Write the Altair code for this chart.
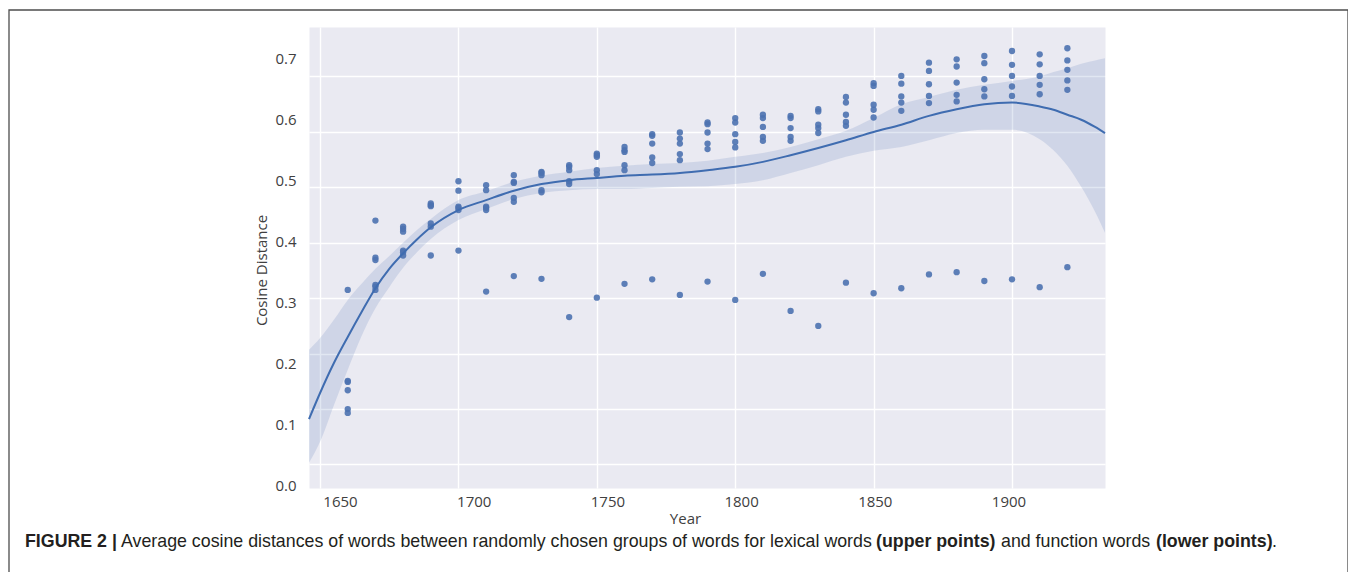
import altair as alt
import pandas as pd

# ---------------- data ----------------
decades = [1660, 1670, 1680, 1690, 1700, 1710, 1720, 1730, 1740, 1750, 1760, 1770, 1780, 1790,
           1800, 1810, 1820, 1830, 1840, 1850, 1860, 1870, 1880, 1890, 1900, 1910, 1920]

lexical_points = [
    [0.151, 0.149, 0.134, 0.100, 0.093],
    [0.440, 0.373, 0.369, 0.324, 0.321],
    [0.429, 0.425, 0.420, 0.386, 0.383],
    [0.471, 0.468, 0.466, 0.435, 0.429],
    [0.511, 0.494, 0.465, 0.463, 0.459],
    [0.504, 0.495, 0.465, 0.463, 0.459],
    [0.522, 0.510, 0.508, 0.481, 0.474],
    [0.528, 0.526, 0.522, 0.495, 0.491],
    [0.540, 0.537, 0.531, 0.511, 0.506],
    [0.561, 0.558, 0.555, 0.531, 0.524],
    [0.573, 0.567, 0.564, 0.540, 0.531],
    [0.596, 0.593, 0.579, 0.554, 0.544],
    [0.599, 0.588, 0.579, 0.560, 0.549],
    [0.617, 0.614, 0.599, 0.579, 0.569],
    [0.625, 0.617, 0.596, 0.582, 0.572],
    [0.631, 0.625, 0.609, 0.591, 0.584],
    [0.629, 0.625, 0.607, 0.591, 0.584],
    [0.641, 0.637, 0.613, 0.607, 0.598],
    [0.663, 0.653, 0.631, 0.618, 0.611],
    [0.688, 0.683, 0.649, 0.640, 0.626],
    [0.701, 0.687, 0.664, 0.653, 0.638],
    [0.725, 0.710, 0.686, 0.665, 0.652],
    [0.731, 0.718, 0.689, 0.667, 0.655],
    [0.737, 0.724, 0.695, 0.677, 0.664],
    [0.746, 0.721, 0.701, 0.682, 0.665],
    [0.740, 0.722, 0.701, 0.685, 0.668],
    [0.751, 0.729, 0.712, 0.693, 0.676],
]

function_points = [0.315, 0.315, 0.377, 0.377, 0.386, 0.312, 0.340, 0.335, 0.266, 0.301, 0.326,
                   0.334, 0.306, 0.330, 0.297, 0.344, 0.277, 0.250, 0.328, 0.309, 0.318, 0.343,
                   0.347, 0.331, 0.334, 0.320, 0.356]

fit_years = [1646, 1650, 1655, 1660, 1665, 1670, 1675, 1680, 1685, 1690, 1700, 1710, 1720, 1730,
             1740, 1750, 1760, 1770, 1780, 1790, 1800, 1810, 1820, 1830, 1840, 1850, 1860, 1870,
             1880, 1890, 1900, 1910, 1915, 1920, 1925, 1930, 1933.6]
fit_mean = [0.082, 0.129, 0.183, 0.230, 0.275, 0.318, 0.353, 0.381, 0.406, 0.428, 0.459, 0.477,
            0.494, 0.506, 0.513, 0.517, 0.521, 0.523, 0.526, 0.531, 0.537, 0.546, 0.558, 0.571,
            0.585, 0.600, 0.613, 0.629, 0.641, 0.650, 0.653, 0.646, 0.640, 0.631, 0.622, 0.609,
            0.598]
fit_hi = [0.207, 0.228, 0.261, 0.297, 0.326, 0.353, 0.376, 0.400, 0.423, 0.443, 0.477, 0.493,
          0.510, 0.521, 0.528, 0.535, 0.539, 0.542, 0.544, 0.548, 0.555, 0.562, 0.573, 0.587,
          0.602, 0.625, 0.650, 0.663, 0.676, 0.685, 0.692, 0.700, 0.708, 0.715, 0.723, 0.729,
          0.733]
fit_lo = [0.003, 0.041, 0.107, 0.171, 0.232, 0.282, 0.320, 0.355, 0.383, 0.407, 0.441, 0.461,
          0.479, 0.490, 0.495, 0.497, 0.497, 0.499, 0.501, 0.502, 0.506, 0.513, 0.526, 0.540,
          0.555, 0.566, 0.573, 0.585, 0.598, 0.604, 0.604, 0.587, 0.567, 0.539, 0.501, 0.456,
          0.418]

x_ticks = [1650, 1700, 1750, 1800, 1850, 1900]
y_ticks = [0.0, 0.1, 0.2, 0.3, 0.4, 0.5, 0.6, 0.7]

caption_parts = [
    ("FIGURE 2 |", True),
    ("Average cosine distances of words between randomly chosen groups of words for lexical words", False),
    ("(upper points)", True),
    ("and function words", False),
    ("(lower points)", True),
    (".", False),
]

# ---------------- tables ----------------
rows = []
for yr, lex, fn in zip(decades, lexical_points, function_points):
    for v in lex:
        rows.append({"Year": yr, "Cosine Distance": v, "Group": "lexical words"})
    rows.append({"Year": yr, "Cosine Distance": fn, "Group": "function words"})
points = pd.DataFrame(rows)
fit = pd.DataFrame({"Year": fit_years, "mean": fit_mean, "lo": fit_lo, "hi": fit_hi})
ticks_df = pd.DataFrame([(a, b) for a in x_ticks for b in y_ticks], columns=["Year", "Cosine Distance"])
one = pd.DataFrame({"k": [0]})

BLUE = "#4C72B0"
LABEL_FONT = "Open Sans"
CAP_FONT = "Liberation Sans"

# data scales (matching the grid)
xs = alt.Scale(domain=[1646.0, 1933.6], nice=False, zero=False)
ys = alt.Scale(domain=[-0.0424, 0.7893], nice=False, zero=False)
grid_x = alt.Axis(orient="top", values=x_ticks, labels=False, ticks=False, domain=False,
                  title=None, grid=True, gridColor="white", gridWidth=1.4, gridOpacity=1)
grid_y = alt.Axis(orient="right", values=y_ticks, labels=False, ticks=False, domain=False,
                  title=None, grid=True, gridColor="white", gridWidth=1.4, gridOpacity=1)

band = alt.Chart(fit).mark_area(color=BLUE, opacity=0.17, interpolate="monotone").encode(
    x=alt.X("Year:Q", scale=xs, axis=grid_x),
    y=alt.Y("lo:Q", scale=ys, axis=grid_y),
    y2="hi:Q",
)
pts = alt.Chart(points).mark_circle(size=40, color=BLUE, opacity=0.9).encode(
    x=alt.X("Year:Q", scale=xs, axis=grid_x),
    y=alt.Y("Cosine Distance:Q", scale=ys, axis=grid_y),
)
line = alt.Chart(fit).mark_line(color="#3f6cb0", strokeWidth=2, interpolate="monotone").encode(
    x=alt.X("Year:Q", scale=xs, axis=grid_x),
    y=alt.Y("mean:Q", scale=ys, axis=grid_y),
)
main = alt.layer(band, pts, line)

# tick labels as printed in the figure
label_layer = alt.Chart(ticks_df).mark_point(opacity=0).encode(
    x=alt.X("Year:Q",
            scale=alt.Scale(domain=[1638.4, 1936.1], nice=False, zero=False),
            axis=alt.Axis(orient="bottom", values=x_ticks, format="d", grid=False, ticks=False,
                          tickSize=0, domain=False, labelFont=LABEL_FONT, labelFontSize=15,
                          labelColor="#404040", labelPadding=6, title="Year",
                          titleFont=LABEL_FONT, titleFontSize=15, titleFontWeight="normal",
                          titleColor="#404040", titleX=376, titlePadding=2)),
    y=alt.Y("Cosine Distance:Q",
            scale=alt.Scale(domain=[-0.0033, 0.7512], nice=False, zero=False),
            axis=alt.Axis(orient="left", values=y_ticks, format=".1f", grid=False, ticks=False,
                          tickSize=0, domain=False, labelFont=LABEL_FONT, labelFontSize=15,
                          labelColor="#404040", labelPadding=13, title="Cosine Distance",
                          titleFont=LABEL_FONT, titleFontSize=15, titleFontWeight="normal",
                          titleColor="#404040", titleY=243, titlePadding=5)),
)

frame = alt.Chart(one).mark_rect(fill="white", fillOpacity=0, stroke="#4d4d4d", strokeWidth=1.3).encode(
    x=alt.value(-300), x2=alt.value(1039), y=alt.value(-17), y2=alt.value(600)
)

cap_x = [-284, -188, 567, 692, 847, 963]
caps = []
for (txt, bold), cx in zip(caption_parts, cap_x):
    caps.append(
        alt.Chart(one).mark_text(text=txt, align="left", baseline="alphabetic", font=CAP_FONT,
                                 fontSize=17.8, fontWeight="bold" if bold else "normal",
                                 color="#231f20").encode(x=alt.value(cx), y=alt.value(520))
    )

chart = alt.layer(frame, main, label_layer, *caps).resolve_scale(
    x="independent", y="independent"
).properties(
    width=796, height=461,
    autosize=alt.AutoSizeParams(type="none"),
    padding={"left": 301, "top": 19, "right": 243, "bottom": 84},
    background="white",
).configure_view(fill="#EAEAF2", stroke="transparent")

chart.save("out.html", embed_options={"renderer": "svg", "actions": False})
